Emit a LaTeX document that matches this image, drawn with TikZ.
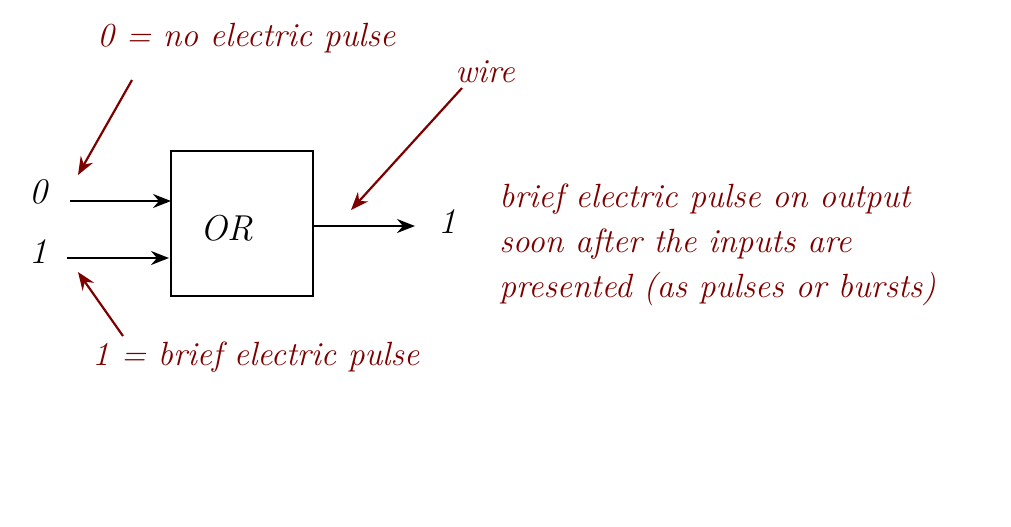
\documentclass[tikz,border=0pt]{standalone}
\usepackage{tikz}
\usetikzlibrary{positioning, arrows.meta}

\definecolor{notered}{RGB}{125,0,0}

\begin{document}
\begin{tikzpicture}[x=0.5pt, y=-0.5pt, >={Stealth[length=9pt, width=7pt, inset=3pt]}]

% Styles
\tikzset{
  gate/.style={draw, line width=1pt, minimum width=71pt, minimum height=72.5pt, inner sep=0pt},
  signal/.style={font=\fontsize{18}{22}\selectfont\itshape, inner sep=0pt},
  note/.style={font=\fontsize{16.8}{22.5}\selectfont\itshape, text=notered, inner sep=0pt, anchor=west, align=left},
  wireline/.style={line width=1pt, ->},
  pointer/.style={line width=1.1pt, notered, ->}
}

% Frame
\useasboundingbox (0,0) rectangle (1011,526);

% Gate
\node[gate] (or) at (242,223) {};
\node[signal] (orlbl) at (227,228) {OR};

% Input and output ends
\coordinate (in0) at (70,201);
\coordinate (in1) at (67,258);
\coordinate (g0) at (171,201);
\coordinate (g1) at (169,258);
\coordinate (g2) at (313,226);
\coordinate (out) at (415,226);

% Wires
\draw[wireline] (in0) -- (g0);
\draw[wireline] (in1) -- (g1);
\draw[wireline] (g2) -- (out);

% Signal values
\node[signal] (v0) at (38,192) {0};
\node[signal] (v1) at (38,252) {1};
\node[signal] (vout) at (447,222) {1};

% Notes
\node[note] (nopulse) at (97,38) {0 = no electric pulse};
\node[note] (wire) at (455,72) {wire};
\node[note] (pulse) at (92,357) {1 = brief electric pulse};
\node[note] (output) at (499,245) {brief electric pulse on output\\soon after the inputs are\\presented (as pulses or bursts)};

% Pointers
\coordinate (p0a) at (132,80);
\coordinate (p0b) at (78,175);
\coordinate (pwa) at (462,88);
\coordinate (pwb) at (351,210);
\coordinate (p1a) at (123,336);
\coordinate (p1b) at (78,272);
\draw[pointer] (p0a) -- (p0b);
\draw[pointer] (pwa) -- (pwb);
\draw[pointer] (p1a) -- (p1b);

\end{tikzpicture}
\end{document}
